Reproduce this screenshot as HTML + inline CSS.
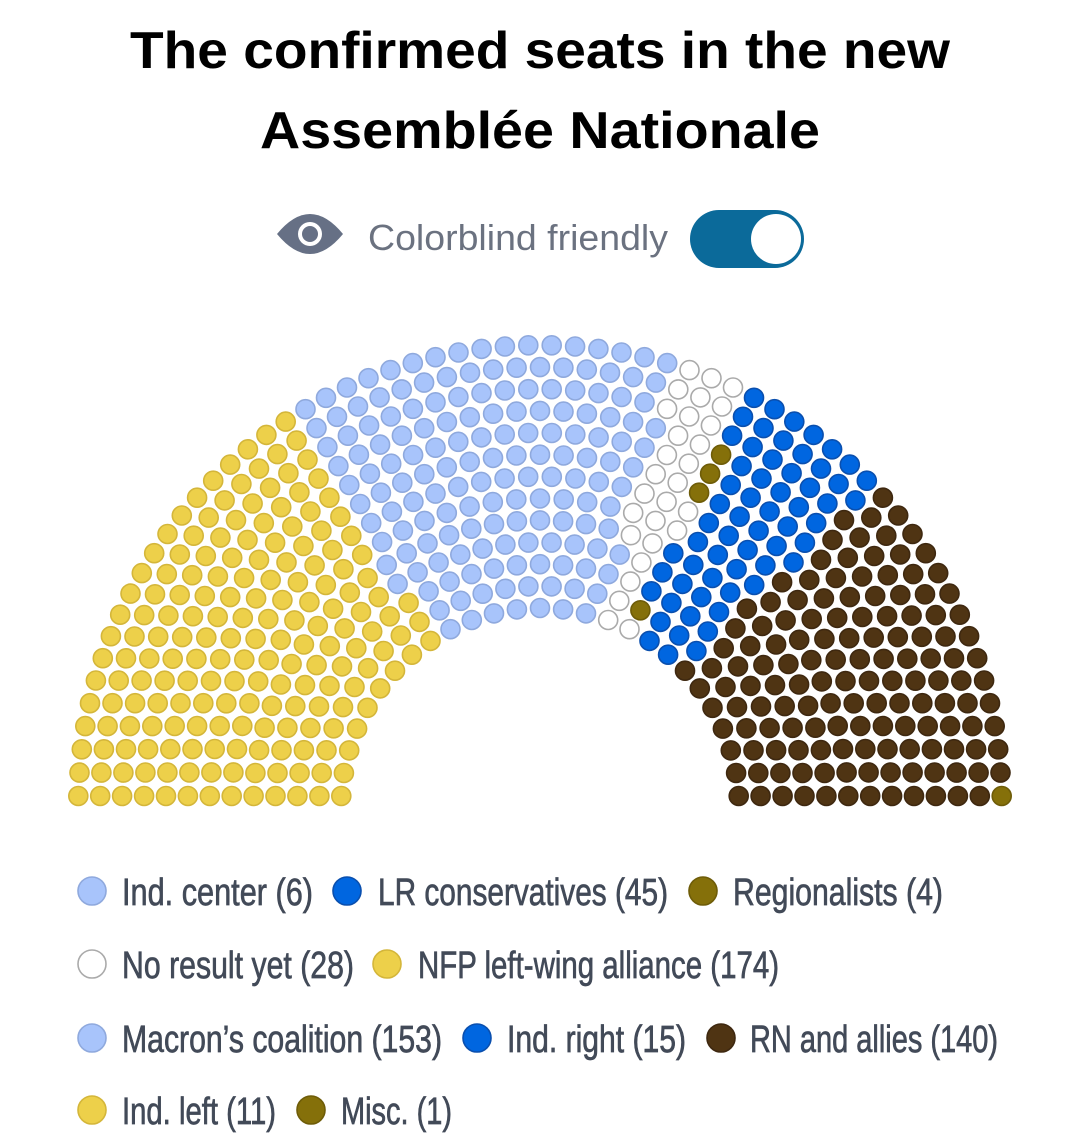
<!DOCTYPE html>
<html><head><meta charset="utf-8"><style>
html,body{margin:0;padding:0;background:#fff;width:1080px;height:1140px;overflow:hidden}
svg{display:block}
</style></head><body>
<svg id="s" width="1080" height="1140" viewBox="0 0 1080 1140" xmlns="http://www.w3.org/2000/svg">
<g font-family="Liberation Sans, sans-serif" font-weight="bold" fill="#000">
<text x="130" y="68" font-size="52" textLength="820" lengthAdjust="spacingAndGlyphs">The confirmed seats in the new</text>
<text x="260" y="148" font-size="52" textLength="560" lengthAdjust="spacingAndGlyphs">Assemblée Nationale</text>
</g>
<path d="M277 234 Q310 194 343 234 Q310 274 277 234 Z" fill="#667085"/>
<circle cx="310" cy="234" r="12" fill="#fff"/><circle cx="310" cy="234" r="8" fill="#667085"/>
<text x="368" y="250" font-family="Liberation Sans, sans-serif" font-size="36" fill="#6b7280" textLength="300" lengthAdjust="spacingAndGlyphs">Colorblind friendly</text>
<rect x="690" y="210" width="114" height="58" rx="29" fill="#0b6a9a"/>
<circle cx="776" cy="239" r="25" fill="#fff"/>
<g id="dots"></g>
<g id="leg" font-family="Liberation Sans Narrow, Liberation Sans, sans-serif" font-size="38" fill="#424a58" stroke="#424a58" stroke-width="0.7"></g>
</svg>
<script>
var C={lb:['#a8c4fb','#8fa9dd'],y:['#edd04a','#d4b63a'],w:['#ffffff','#aaaaaa'],b:['#0066e0','#0a4fae'],br:['#4f3413','#3e2810'],o:['#85700a','#6e5c08']};
var ns='http://www.w3.org/2000/svg';
function circ(g,x,y,r,c){var e=document.createElementNS(ns,'circle');e.setAttribute('cx',x);e.setAttribute('cy',y);e.setAttribute('r',r);e.setAttribute('fill',c[0]);e.setAttribute('stroke',c[1]);e.setAttribute('stroke-width',1.6);g.appendChild(e);}
var cx=540,cy=807,rows=13,radii=[],sum=0;
for(var i=0;i<rows;i++){radii.push(199+21.9*i);sum+=radii[i];}
var cnt=[],rem=[],tot=0;
for(i=0;i<rows;i++){var v=577*radii[i]/sum;cnt.push(Math.floor(v));rem.push([v-Math.floor(v),i]);tot+=cnt[i];}
rem.sort(function(a,b){return b[0]-a[0]});for(i=0;tot<577;i++){cnt[rem[i][1]]++;tot++;}
var seats=[];
for(i=0;i<rows;i++){var r=radii[i],a0=Math.asin(11/r),n=cnt[i];
for(var j=0;j<n;j++){var t=(Math.PI-a0)-(Math.PI-2*a0)*j/(n-1);seats.push({t:t,x:cx+r*Math.cos(t),y:cy-r*Math.sin(t),row:i});}}
seats.sort(function(a,b){return b.t-a.t||a.row-b.row});
var groups=[['y',185],['lb',159],['w',28],['o',4],['b',60],['br',140],['o',1]];
var g=document.getElementById('dots'),k=0;
groups.forEach(function(gr){for(var m=0;m<gr[1];m++){var s=seats[k++];circ(g,s.x.toFixed(1),s.y.toFixed(1),9.5,C[gr[0]]);}});
var L=document.getElementById('leg');
var items=[
[891,[[92,'lb','Ind. center (6)',122,313],[347,'b','LR conservatives (45)',378,668],[703,'o','Regionalists (4)',733,943]]],
[964,[[92,'w','No result yet (28)',122,354],[387,'y','NFP left-wing alliance (174)',418,779]]],
[1038,[[92,'lb','Macron\u2019s coalition (153)',122,442],[477,'b','Ind. right (15)',507,686],[721,'br','RN and allies (140)',750,998]]],
[1110,[[92,'y','Ind. left (11)',122,276],[311,'o','Misc. (1)',341,452]]]];
items.forEach(function(row){row[1].forEach(function(it){
var c=document.createElementNS(ns,'circle');c.setAttribute('cx',it[0]);c.setAttribute('cy',row[0]);c.setAttribute('r',14);c.setAttribute('fill',C[it[1]][0]);c.setAttribute('stroke',C[it[1]][1]);c.setAttribute('stroke-width',1.6);L.appendChild(c);
var t=document.createElementNS(ns,'text');t.setAttribute('x',it[3]);t.setAttribute('y',row[0]+14);
t.setAttribute('textLength',it[4]-it[3]);t.setAttribute('lengthAdjust','spacingAndGlyphs');t.textContent=it[2];L.appendChild(t);});});
</script>
</body></html>
